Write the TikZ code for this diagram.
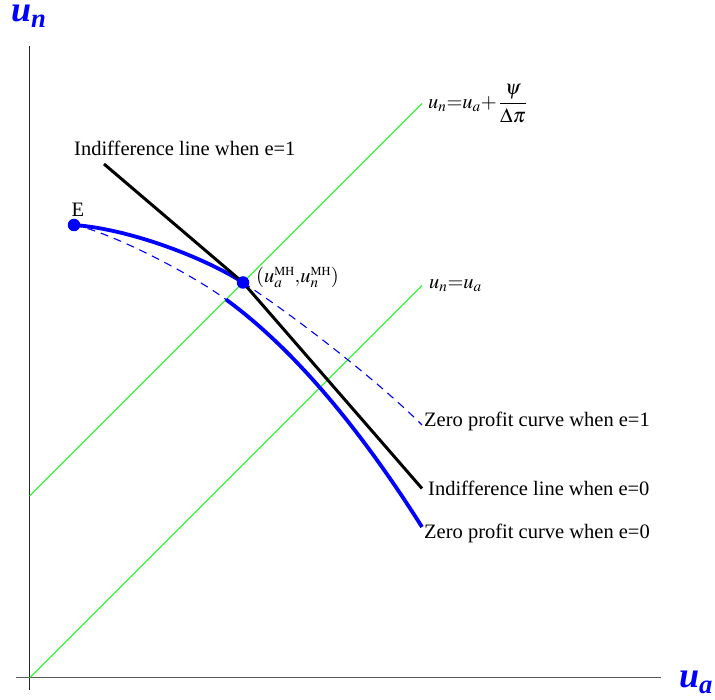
\documentclass[tikz,border=0pt]{standalone}
\usepackage{amsmath}
\usepackage{mathptmx}
\usepackage{fontspec}
\setmainfont{Liberation Serif}
\usepackage{xcolor}
\usetikzlibrary{positioning}

\begin{document}
\begin{tikzpicture}[
        x=1pt, y=1pt,
        axisline/.style={line width=1pt},
        slopeline/.style={draw=green, line width=0.9pt},
        zpthick/.style={draw=blue, line width=3.8pt},
        zpdash/.style={draw=blue, line width=1.1pt, dash pattern=on 8pt off 6pt},
        indline/.style={draw=black, line width=3pt},
        eqpoint/.style={circle, fill=blue, inner sep=0pt, minimum size=12.5pt},
        curvelbl/.style={font=\fontsize{20.5}{24}\selectfont, inner sep=0pt},
        axislbl/.style={font=\fontsize{36}{40}\selectfont\bfseries\itshape,
            text=blue, inner sep=0pt}
    ]
        \useasboundingbox (0,0) rectangle (715,700);

        % axes
        \coordinate (ybot) at (29.5,10);
        \coordinate (ytop) at (29.5,654);
        \coordinate (xlft) at (16,22);
        \coordinate (xrgt) at (661,22);
        \draw[axisline, black!85] (ybot) -- (ytop);
        \draw[axisline, black!65] (xlft) -- (xrgt);

        % points
        \coordinate (O) at (29.5,22);
        \coordinate (Gup0) at (29.5,204);
        \coordinate (Gup1) at (422,596.5);
        \coordinate (Glo1) at (422,414.5);
        \coordinate (E) at (74,475);
        \coordinate (MH) at (243,417.5);
        \coordinate (C0) at (226,400.5);
        \coordinate (Z1) at (422,275);
        \coordinate (Z0) at (422,173);
        \coordinate (I1) at (104,536);
        \coordinate (I0) at (422,211.5);

        % 45 degree lines
        \draw[slopeline] (O) -- (Glo1);
        \draw[slopeline] (Gup0) -- (Gup1);

        % zero profit curves
        \draw[zpdash] (E) .. controls (110,468) and (190,427) .. (C0);
        \draw[zpdash] (MH) .. controls (300,380) and (380,317) .. (Z1);
        \draw[zpthick] (E) .. controls (130,471) and (205,442) .. (MH);
        \draw[zpthick] (C0) .. controls (291,353) and (357,276) .. (Z0);

        % indifference lines
        \draw[indline] (I1) -- (MH) -- (I0);

        \node[eqpoint] (Edot) at (E) {};
        \node[eqpoint] (MHdot) at (MH) {};

        % labels
        \node[curvelbl, anchor=base west] (lblI1) at ([xshift=-30pt, yshift=8pt]I1)
            {Indifference line when e=1};
        \node[curvelbl, anchor=base west] (lblE) at ([xshift=-2.5pt, yshift=8.5pt]E) {E};
        \node[curvelbl, anchor=base west] (lblMH) at ([xshift=13pt]MH)
            {$(u_a^{\scriptscriptstyle\mathrm{MH}}{,}u_n^{\scriptscriptstyle\mathrm{MH}})$};
        \node[curvelbl, anchor=west] (lblGup) at ([xshift=6pt]Gup1)
            {$u_n{=}u_a{+}\,\dfrac{\psi}{\Delta\pi}$};
        \node[curvelbl, anchor=west] (lblGlo) at ([xshift=7pt]Glo1) {$u_n{=}u_a$};
        \node[curvelbl, anchor=base west] (lblZ1) at ([xshift=2pt, yshift=-1.7pt]Z1)
            {Zero profit curve when e=1};
        \node[curvelbl, anchor=base west] (lblI0) at ([xshift=6pt, yshift=-7.5pt]I0)
            {Indifference line when e=0};
        \node[curvelbl, anchor=base west] (lblZ0) at ([xshift=2pt, yshift=-12pt]Z0)
            {Zero profit curve when e=0};

        \node[axislbl, anchor=base west] (lblun) at (11,678) {u\textsubscript{n}};
        \node[axislbl, anchor=base west] (lblua) at (679,12) {u\textsubscript{a}};

    \end{tikzpicture}
\end{document}
